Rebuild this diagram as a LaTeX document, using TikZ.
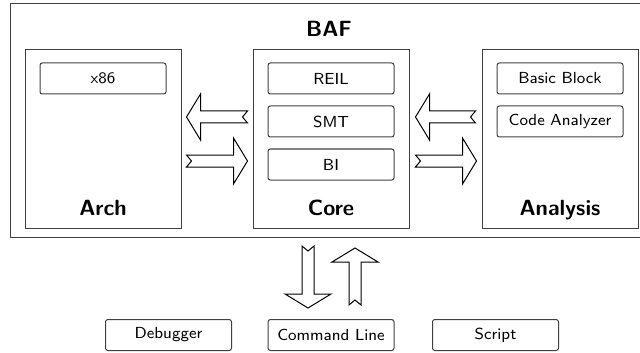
\documentclass[tikz,border=0pt]{standalone}
\usepackage{tikz}
\usetikzlibrary{positioning,calc}
\renewcommand{\familydefault}{\sfdefault}

\tikzset{
	module/.style={draw=black!75, line width=0.5pt, minimum width=78pt, minimum height=89pt},
	unit/.style={draw=black!75, line width=0.5pt, rounded corners=1.2pt, inner sep=0pt,
		minimum width=63pt, minimum height=15.5pt, font=\fontsize{8}{9.6}\selectfont},
	title/.style={anchor=base, inner sep=0pt, font=\fontsize{11}{13}\selectfont\bfseries},
	%% fat arrow with a notched tail, drawn from start to target
	blockarrow/.style={line width=0.5pt, to path={
		let \p1=($(\tikztotarget)-(\tikztostart)$),
		    \n1={atan2(\y1,\x1)}, \n2={veclen(\x1,\y1)} in
		([shift={(\tikztostart)},rotate=\n1]0pt,3pt)
		-- ([shift={(\tikztostart)},rotate=\n1]\n2-7pt,3pt)
		-- ([shift={(\tikztostart)},rotate=\n1]\n2-7pt,11.5pt)
		-- (\tikztotarget)
		-- ([shift={(\tikztostart)},rotate=\n1]\n2-7pt,-11.5pt)
		-- ([shift={(\tikztostart)},rotate=\n1]\n2-7pt,-3pt)
		-- ([shift={(\tikztostart)},rotate=\n1]0pt,-3pt)
		-- ([shift={(\tikztostart)},rotate=\n1]2.5pt,0pt)
		-- cycle}}
}

\begin{document}
\begin{tikzpicture}[x=0.5pt, y=-0.5pt]
		\useasboundingbox (0,0) rectangle (640,352);
		%%framework
		\node[draw=black!75, line width=0.5pt, minimum width=317pt, minimum height=116.5pt] (frame) at (327,120.5) {};
		\node[title] (baf) at (329,37) {BAF};
		%%modules
		\node[module] (arch) at (103,139) {};
		\node[module] (core) at (331,139) {};
		\node[module] (analysis) at (560,139) {};
		\node[title] (archname) at ($(arch.south)+(0,-13)$) {Arch};
		\node[title] (corename) at ($(core.south)+(0,-13)$) {Core};
		\node[title] (analysisname) at ($(analysis.south)+(0,-13)$) {Analysis};
		%%inside
		\node[unit, below=6.5pt of arch.north] (x86) {x86};
		\node[unit, below=6.5pt of core.north] (reil) {REIL};
		\node[unit, below=5.5pt of reil] (smt) {SMT};
		\node[unit, below=5.5pt of smt] (bi) {BI};
		\node[unit, below=6.5pt of analysis.north] (bb) {Basic Block};
		\node[unit, below=5.5pt of bb] (ca) {Code Analyzer};
		%%front ends
		\node[unit] (cmd) at (331,335) {Command Line};
		\node[unit] (dbg) at (168.5,335) {Debugger};
		\node[unit] (script) at (495.5,335) {Script};
		%%arrows
		\coordinate (ac1) at ($(core.west)+(-5,-22)$);
		\coordinate (ac2) at ($(arch.east)+(5,-22)$);
		\coordinate (ac3) at ($(arch.east)+(5,22)$);
		\coordinate (ac4) at ($(core.west)+(-5,22)$);
		\draw[blockarrow] (ac1) to (ac2);
		\draw[blockarrow] (ac3) to (ac4);
		\coordinate (ca1) at ($(analysis.west)+(-6,-22)$);
		\coordinate (ca2) at ($(core.east)+(6,-22)$);
		\coordinate (ca3) at ($(core.east)+(6,22)$);
		\coordinate (ca4) at ($(analysis.west)+(-5,22)$);
		\draw[blockarrow] (ca1) to (ca2);
		\draw[blockarrow] (ca3) to (ca4);
		\coordinate (cl1) at ($(cmd.north)+(-23,-73)$);
		\coordinate (cl2) at ($(cmd.north)+(-23,-11)$);
		\coordinate (cl3) at ($(cmd.north)+(24,-14)$);
		\coordinate (cl4) at ($(cmd.north)+(24,-71)$);
		\draw[blockarrow] (cl1) to (cl2);
		\draw[blockarrow] (cl3) to (cl4);
	\end{tikzpicture}
\end{document}
